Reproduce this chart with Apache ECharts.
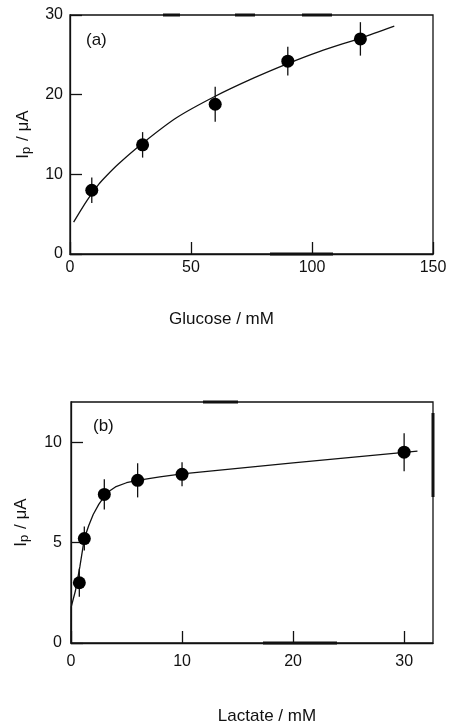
<!DOCTYPE html>
<html>
<head>
<meta charset="utf-8">
<script src="https://cdn.jsdelivr.net/npm/echarts@6/dist/echarts.min.js"></script>
<style>
html,body{margin:0;padding:0;background:#fff;}
#c{width:449px;height:722px;}
</style>
</head>
<body>
<div id="c"></div>
<script>
// Panel (a): glucose
const glucoseX = [9, 30, 60, 90, 120];
const glucoseY = [8.0, 13.7, 18.8, 24.2, 27.0];
const glucoseErr = [1.6, 1.6, 2.2, 1.8, 2.1];
const glucoseFitX = [1.5, 7, 12, 15, 20, 30, 44, 60, 76, 90, 103, 120, 134];
const glucoseFitY = [4.0, 6.7, 8.8, 9.8, 11.3, 13.9, 17.1, 19.8, 22.1, 23.9, 25.4, 27.1, 28.6];
const glucoseXTicks = [0, 50, 100, 150];
const glucoseYTicks = [0, 10, 20, 30];

// Panel (b): lactate
const lactateX = [0.75, 1.2, 3, 6, 10, 30];
const lactateY = [3.0, 5.2, 7.4, 8.1, 8.4, 9.5];
const lactateErr = [0.7, 0.6, 0.75, 0.85, 0.6, 0.95];
const lactateFitX = [0, 0.02, 0.4, 0.8, 1.2, 1.6, 2, 2.5, 3, 3.5, 4, 5, 6, 7, 8, 10, 20, 31.2];
const lactateFitY = [0, 1.8, 2.6, 3.8, 5.2, 5.85, 6.4, 6.9, 7.3, 7.58, 7.77, 7.98, 8.1, 8.19, 8.27, 8.42, 8.97, 9.55];
const lactateXTicks = [0, 10, 20, 30];
const lactateYTicks = [0, 5, 10];

const FONT = "'Liberation Sans', Arial, Helvetica, sans-serif";
const INK = '#111';
const zip = (a, b) => a.map((v, i) => [v, b[i]]);
const errData = (x, y, e) => x.map((v, i) => [v, y[i] - e[i], y[i] + e[i]]);

function errorBar(params, api) {
  const p1 = api.coord([api.value(0), api.value(1)]);
  const p2 = api.coord([api.value(0), api.value(2)]);
  return { type: 'line', shape: { x1: p1[0], y1: p1[1], x2: p2[0], y2: p2[1] },
           style: { stroke: INK, lineWidth: 1.3 } };
}

const axisCommon = {
  axisLine: { show: true, lineStyle: { color: INK, width: 1.3 } },
  axisTick: { show: true, inside: true, length: 12, lineStyle: { color: INK, width: 1.3 } },
  splitLine: { show: false },
  axisLabel: { color: INK, fontSize: 16, fontFamily: FONT },
};
const yName = '{i|I}{s|p}{i| / μA}';
const yNameStyle = { color: INK, fontFamily: FONT,
  rich: { i: { fontSize: 17, fontFamily: FONT, color: INK },
          s: { fontSize: 13, fontFamily: FONT, color: INK, padding: [7, 1, 0, 0] } } };

// decorative thick border segments seen in the scanned figure
const scanMarks = [
  [163, 15, 180, 15], [235, 15, 255, 15], [302, 15, 332, 15], [270, 254, 333, 254],
  [203, 402, 238, 402], [433, 413, 433, 497], [263, 643, 337, 643]
].map(s => ({ type: 'line', silent: true, shape: { x1: s[0], y1: s[1], x2: s[2], y2: s[3] },
  style: { stroke: INK, lineWidth: 3 }, z: 10 }));

const option = {
  animation: false,
  backgroundColor: '#fff',
  grid: [
    { left: 70, top: 15, width: 363, height: 239, show: true, borderColor: INK, borderWidth: 1.3,
      outerBoundsMode: 'none', containLabel: false },
    { left: 71, top: 402, width: 362, height: 241, show: true, borderColor: INK, borderWidth: 1.3,
      outerBoundsMode: 'none', containLabel: false }
  ],
  graphic: [
    { type: 'text', left: 86, top: 32, style: { text: '(a)', fontSize: 17, fontFamily: FONT, fill: INK } },
    { type: 'text', left: 93, top: 418, style: { text: '(b)', fontSize: 17, fontFamily: FONT, fill: INK } }
  ].concat(scanMarks),
  xAxis: [
    Object.assign({}, axisCommon, {
      type: 'value', gridIndex: 0, min: glucoseXTicks[0], max: glucoseXTicks[glucoseXTicks.length - 1], interval: 50,
      name: 'Glucose / mM', nameLocation: 'middle', nameGap: 57,
      nameTextStyle: { color: INK, fontSize: 17, fontFamily: FONT, padding: [0, 60, 0, 0] },
      axisLabel: Object.assign({}, axisCommon.axisLabel, { margin: 6 })
    }),
    Object.assign({}, axisCommon, {
      type: 'value', gridIndex: 1, min: lactateXTicks[0], max: 32.6, interval: 10,
      name: 'Lactate / mM', nameLocation: 'middle', nameGap: 65,
      nameTextStyle: { color: INK, fontSize: 17, fontFamily: FONT, padding: [0, 0, 0, 30] },
      axisLabel: Object.assign({}, axisCommon.axisLabel, { margin: 11, customValues: lactateXTicks }),
      axisTick: Object.assign({}, axisCommon.axisTick, { customValues: lactateXTicks })
    })
  ],
  yAxis: [
    Object.assign({}, axisCommon, {
      type: 'value', gridIndex: 0, min: glucoseYTicks[0], max: glucoseYTicks[glucoseYTicks.length - 1], interval: 10,
      name: yName, nameLocation: 'middle', nameGap: 37, nameRotate: 90, nameTextStyle: yNameStyle,
      axisLabel: Object.assign({}, axisCommon.axisLabel, { margin: 7 })
    }),
    Object.assign({}, axisCommon, {
      type: 'value', gridIndex: 1, min: lactateYTicks[0], max: 12, interval: 5,
      name: yName, nameLocation: 'middle', nameGap: 40, nameRotate: 90, nameTextStyle: yNameStyle,
      axisLabel: Object.assign({}, axisCommon.axisLabel, { margin: 9, customValues: lactateYTicks }),
      axisTick: Object.assign({}, axisCommon.axisTick, { customValues: lactateYTicks })
    })
  ],
  series: [
    { type: 'line', xAxisIndex: 0, yAxisIndex: 0, data: zip(glucoseFitX, glucoseFitY), smooth: 0.3,
      showSymbol: false, lineStyle: { color: INK, width: 1.3 }, z: 2 },
    { type: 'custom', xAxisIndex: 0, yAxisIndex: 0, data: errData(glucoseX, glucoseY, glucoseErr),
      renderItem: errorBar, encode: { x: 0, y: [1, 2] }, z: 3 },
    { type: 'scatter', xAxisIndex: 0, yAxisIndex: 0, data: zip(glucoseX, glucoseY), symbol: 'circle',
      symbolSize: 13, itemStyle: { color: '#000', opacity: 1 }, z: 4 },

    { type: 'line', xAxisIndex: 1, yAxisIndex: 1, data: zip(lactateFitX, lactateFitY), smooth: false,
      showSymbol: false, lineStyle: { color: INK, width: 1.3, join: 'round' }, z: 2 },
    { type: 'custom', xAxisIndex: 1, yAxisIndex: 1, data: errData(lactateX, lactateY, lactateErr),
      renderItem: errorBar, encode: { x: 0, y: [1, 2] }, z: 3 },
    { type: 'scatter', xAxisIndex: 1, yAxisIndex: 1, data: zip(lactateX, lactateY), symbol: 'circle',
      symbolSize: 13, itemStyle: { color: '#000', opacity: 1 }, z: 4 }
  ]
};

const chart = echarts.init(document.getElementById('c'), null, { renderer: 'canvas' });
chart.setOption(option);
</script>
</body>
</html>
